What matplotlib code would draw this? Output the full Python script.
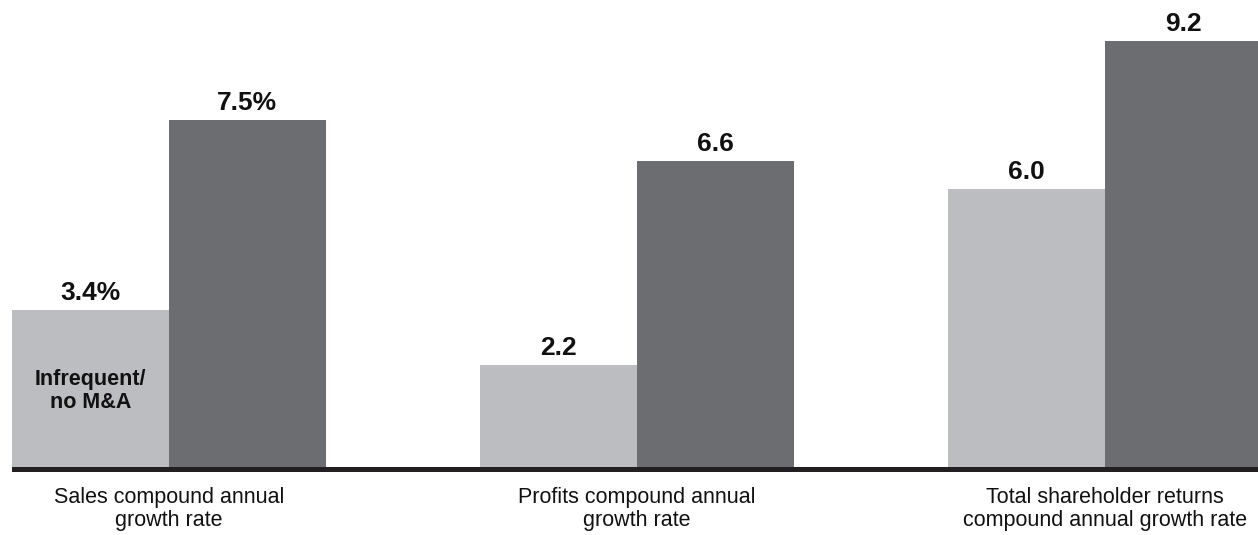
import numpy as np
import matplotlib.pyplot as plt

plt.rcParams['font.family'] = ['Liberation Sans', 'DejaVu Sans']

# growth rates (%), light = infrequent/no M&A, dark = frequent M&A
categories = ['Sales compound annual\ngrowth rate',
              'Profits compound annual\ngrowth rate',
              'Total shareholder returns\ncompound annual growth rate']
infrequent = [3.4, 2.2, 6.0]
frequent = [7.5, 6.6, 9.2]
infrequent_labels = ['3.4%', '2.2', '6.0']
frequent_labels = ['7.5%', '6.6', '9.2']

LIGHT = '#bcbdc1'
DARK = '#6c6d71'
INK = '#111111'
W, H, DPI = 1258, 535, 100

fig = plt.figure(figsize=(W / DPI, H / DPI), dpi=DPI)
# axes spans from the left edge of the first bar to the right side of the canvas
px_per_unit = 46.3
base_px = 467          # pixel row of the zero line
line_px = 5            # thickness of the base rule
ax = fig.add_axes([12 / W, (H - base_px - line_px) / H, 1 - 12 / W, (base_px + line_px) / H])

x = np.arange(len(categories))
bw = 0.335
ax.bar(x - bw / 2, infrequent, width=bw, color=LIGHT, linewidth=0, zorder=2)
ax.bar(x + bw / 2, frequent, width=bw, color=DARK, linewidth=0, zorder=2)

ax.set_xlim(-bw, 2 + 0.327)
ax.set_ylim(-line_px / px_per_unit, base_px / px_per_unit)
ax.axhspan(-line_px / px_per_unit, 0, color='#231f20', lw=0, zorder=3)
ax.axis('off')

# value labels sit on the bar tops
for xs, vals, labs in [(x - bw / 2, infrequent, infrequent_labels),
                       (x + bw / 2, frequent, frequent_labels)]:
    for xi, v, lab in zip(xs, vals, labs):
        ax.annotate(lab, (xi, v), xytext=(0, 7.2), textcoords='offset points',
                    ha='center', va='baseline', fontsize=19, fontweight='bold', color=INK)

for xi, cat in zip(x, categories):
    ax.annotate(cat, (xi, 0), xytext=(0, -14.5), textcoords='offset points',
                ha='center', va='top', fontsize=15.5, color=INK,
                linespacing=1.12, annotation_clip=False)

ax.text(x[0] - bw / 2, 1.64, 'Infrequent/\nno M&A', ha='center', va='center',
        fontsize=15.5, fontweight='bold', color=INK, linespacing=1.1)

fig.savefig('out.png', dpi=DPI)
